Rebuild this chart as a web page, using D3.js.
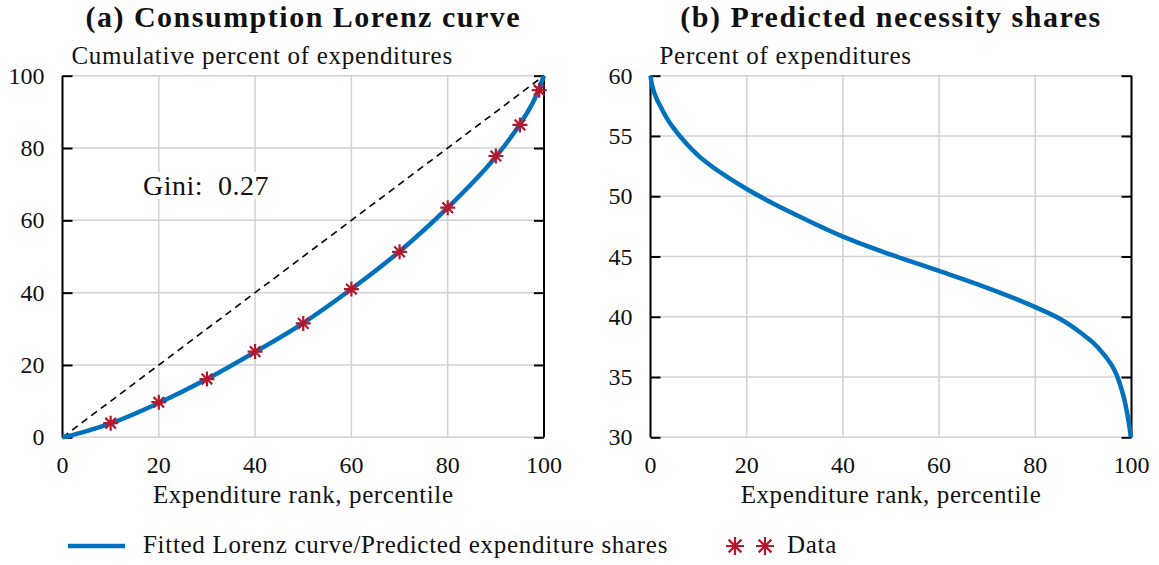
<!DOCTYPE html>
<html>
<head>
<meta charset="utf-8">
<script src="https://cdn.jsdelivr.net/npm/d3@7"></script>
<style>
  body { margin: 0; background: #fff; }
</style>
</head>
<body>
<script>
var lorenzPct = [0, 2, 5, 10, 20, 30, 40, 50, 60, 70, 80, 90, 95, 98, 100];
var lorenzFit = [0, 0.6, 1.7, 3.85, 9.5, 16.1, 23.6, 31.6, 41.0, 51.4, 63.5, 77.6, 86.6, 93.4, 100];

// data points (red asterisks)
var dataPct = [10, 20, 30, 40, 50, 60, 70, 80, 90, 95, 99];
var dataCum = [3.9, 9.7, 16.1, 23.7, 31.5, 41.0, 51.3, 63.5, 77.8, 86.4, 96.0];

// predicted necessity shares
var sharePct = [0, 0.25, 0.5, 1, 2, 3, 4, 5, 7.5, 10, 12.5, 15, 20, 25, 30, 40, 50, 60, 70, 80, 85, 88, 90, 92, 94, 95, 96, 97, 98, 98.5, 99, 99.4, 99.7, 99.85];
var shareVal = [60, 59.35, 58.95, 58.35, 57.5, 56.75, 56.1, 55.55, 54.35, 53.35, 52.55, 51.85, 50.6, 49.5, 48.5, 46.65, 45.15, 43.8, 42.4, 40.8, 39.85, 39.1, 38.5, 37.85, 37.0, 36.5, 35.9, 35.1, 33.9, 33.15, 32.2, 31.3, 30.5, 30];

var xTicks = [0, 20, 40, 60, 80, 100];
var yTicksA = [0, 20, 40, 60, 80, 100];
var yTicksB = [30, 35, 40, 45, 50, 55, 60];
var gini = 0.27;

var w = 1159, h = 565;
var blue = "#0072BD", red = "#B5172C", grid = "#d2d2d2";
var serif = "'Liberation Serif', 'Times New Roman', serif";

var svg = d3.select("body").append("svg")
    .attr("width", w)
    .attr("height", h)
    .attr("font-family", serif);

function label(g, x, y, size, str, ls) {
    return g.append("text")
        .attr("x", x).attr("y", y)
        .style("font-family", serif)
        .style("font-size", size + "px")
        .style("letter-spacing", (ls || 0) + "px")
        .style("fill", "#111")
        .text(str);
}

// draws one panel frame: grid, spines, inward ticks, labels
function panel(x, y, yTicks, opts) {
    var g = svg.append("g");

    // vertical grid
    g.selectAll(".vgrid").data(xTicks).enter().append("line")
        .attr("x1", function(d){ return x(d); })
        .attr("x2", function(d){ return x(d); })
        .attr("y1", y.range()[0]).attr("y2", y.range()[1])
        .style("stroke", grid).style("stroke-width", 1.5);

    // horizontal grid
    g.selectAll(".hgrid").data(yTicks).enter().append("line")
        .attr("x1", x.range()[0]).attr("x2", x.range()[1])
        .attr("y1", function(d){ return y(d); })
        .attr("y2", function(d){ return y(d); })
        .style("stroke", grid).style("stroke-width", 1.5);

    // left and right axes with inward ticks
    var left = d3.axisLeft(y).tickValues(yTicks).tickSize(-10).tickFormat("");
    var right = d3.axisRight(y).tickValues(yTicks).tickSize(-10).tickFormat("");
    [ [left, x.range()[0]], [right, x.range()[1]] ].forEach(function(a){
        var ax = g.append("g")
            .attr("transform", "translate(" + a[1] + ",0)")
            .call(a[0]);
        ax.select(".domain").attr("d", "M0," + y.range()[0] + "V" + y.range()[1])
            .style("stroke", "#000").style("stroke-width", 2);
        ax.selectAll(".tick line").style("stroke", "#000").style("stroke-width", 2);
    });

    // y tick labels
    yTicks.forEach(function(d){
        label(g, x.range()[0] - 18, y(d) + 8, 24, d).attr("text-anchor", "end");
    });

    // x tick labels
    xTicks.forEach(function(d){
        label(g, x(d), y.range()[0] + 36, 24, d).attr("text-anchor", "middle");
    });

    var cx = (x.range()[0] + x.range()[1]) / 2;

    label(g, cx, 503, 25, "Expenditure rank, percentile", 0.6).attr("text-anchor", "middle");
    label(g, x.range()[0] + 9, 64, 25, opts.ylabel, 0.7);
    label(g, cx, 27, 30, opts.title, 1.5)
        .attr("text-anchor", "middle")
        .style("font-weight", "bold");

    return g;
}

function asterisk(sel, r) {
    sel.append("path")
        .attr("d", function(){
            var k = r * Math.SQRT1_2;
            return "M" + (-r) + ",0H" + r + "M0," + (-r) + "V" + r +
                "M" + (-k) + "," + (-k) + "L" + k + "," + k +
                "M" + (-k) + "," + k + "L" + k + "," + (-k);
        })
        .style("stroke", red).style("stroke-width", 2.2).style("fill", "none");
}

// ---- panel (a) ----
var xa = d3.scaleLinear().domain([0, 100]).range([62.5, 544]);
var ya = d3.scaleLinear().domain([0, 100]).range([437.3, 75.7]);
var ga = panel(xa, ya, yTicksA, {
    title: "(a) Consumption Lorenz curve",
    ylabel: "Cumulative percent of expenditures"
});

// Gini label on white box
var gt = label(ga, 143, 195, 28, "Gini:  " + gini.toFixed(2), 0.5).style("white-space", "pre");
var bb = gt.node().getBBox();
ga.insert("rect", function(){ return gt.node(); })
    .attr("x", bb.x - 4).attr("y", bb.y + 2)
    .attr("width", bb.width + 8).attr("height", bb.height - 4)
    .style("fill", "#fff");

// equality line
ga.append("line")
    .attr("x1", xa(0)).attr("y1", ya(0))
    .attr("x2", xa(100)).attr("y2", ya(100))
    .style("stroke", "#000").style("stroke-width", 1.6)
    .style("stroke-dasharray", "7,5");

var lineA = d3.line()
    .x(function(d){ return xa(d[0]); })
    .y(function(d){ return ya(d[1]); })
    .curve(d3.curveMonotoneX);

ga.append("path")
    .datum(d3.zip(lorenzPct, lorenzFit))
    .attr("d", lineA)
    .style("fill", "none").style("stroke", blue).style("stroke-width", 4.5);

ga.selectAll(".pts").data(d3.zip(dataPct, dataCum)).enter().append("g")
    .attr("transform", function(d){ return "translate(" + xa(d[0]) + "," + ya(d[1]) + ")"; })
    .call(asterisk, 7.5);

// ---- panel (b) ----
var xb = d3.scaleLinear().domain([0, 100]).range([650.5, 1131.5]);
var yb = d3.scaleLinear().domain([30, 60]).range([437.3, 75.7]);
var gb = panel(xb, yb, yTicksB, {
    title: "(b) Predicted necessity shares",
    ylabel: "Percent of expenditures"
});

var lineB = d3.line()
    .x(function(d){ return xb(d[0]); })
    .y(function(d){ return yb(d[1]); })
    .curve(d3.curveMonotoneX);

gb.append("path")
    .datum(d3.zip(sharePct, shareVal))
    .attr("d", lineB)
    .style("fill", "none").style("stroke", blue).style("stroke-width", 4.5);

// ---- legend ----
var leg = svg.append("g");
leg.append("line")
    .attr("x1", 68).attr("x2", 125).attr("y1", 546).attr("y2", 546)
    .style("stroke", blue).style("stroke-width", 4.5);
label(leg, 143, 553, 25, "Fitted Lorenz curve/Predicted expenditure shares", 0.7);
leg.selectAll(".lm").data([735, 765]).enter().append("g")
    .attr("transform", function(d){ return "translate(" + d + ",546)"; })
    .call(asterisk, 9);
label(leg, 787, 553, 25, "Data", 0.7);
</script>
</body>
</html>
